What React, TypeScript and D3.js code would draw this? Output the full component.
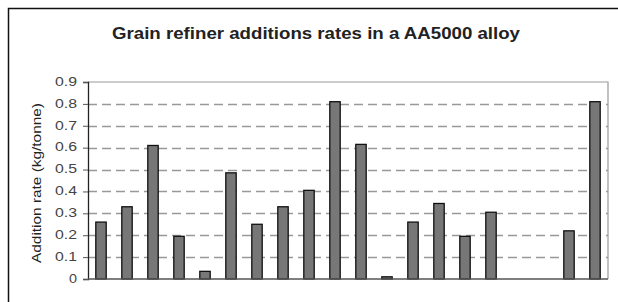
import React, { useEffect, useRef } from "react";
import * as d3 from "d3";

// chart data
const categories = ["1", "2", "3", "4", "5", "6", "7", "8", "9", "10", "11", "12", "13", "14", "15", "16", "17", "18", "19", "20"];
const additionRates: (number | null)[] = [0.26, 0.33, 0.61, 0.195, 0.035, 0.485, 0.25, 0.33, 0.405, 0.81, 0.615, 0.01, 0.26, 0.345, 0.195, 0.305, null, null, 0.22, 0.81];
const yTicks = [0, 0.1, 0.2, 0.3, 0.4, 0.5, 0.6, 0.7, 0.8, 0.9];

const titleText = "Grain refiner additions rates in a AA5000 alloy";
const yLabelText = "Addition rate (kg/tonne)";

function App() {
  const ref = useRef<SVGSVGElement>(null);

  useEffect(() => {
    const width = 618;
    const height = 302;
    const margin = { top: 82, right: 10, bottom: 23, left: 88 };
    const font = "'Liberation Sans', Arial, sans-serif";

    const svg = d3.select(ref.current);
    svg.selectAll("*").remove();
    svg.attr("width", width).attr("height", height);

    // outer frame (runs off the right and bottom edges)
    svg
      .append("rect")
      .attr("x", 8.5)
      .attr("y", 8.5)
      .attr("width", 640)
      .attr("height", 320)
      .attr("fill", "#fff")
      .attr("stroke", "#111")
      .attr("stroke-width", 1.5);

    const x = d3
      .scaleBand()
      .domain(categories)
      .range([margin.left, width - margin.right])
      .paddingInner(0.6)
      .paddingOuter(0.3);

    const y = d3
      .scaleLinear()
      .domain([0, 0.9])
      .range([height - margin.bottom, margin.top]);

    // plot border, top and right in grey
    svg
      .append("path")
      .attr("d", `M${margin.left},${y(0.9)}H${width - margin.right}V${y(0)}`)
      .attr("fill", "none")
      .attr("stroke", "#999")
      .attr("stroke-width", 1.2);

    // dashed gridlines
    svg
      .append("g")
      .selectAll("line")
      .data(yTicks.filter((t) => t > 0 && t < 0.9))
      .join("line")
      .attr("x1", margin.left)
      .attr("x2", width - margin.right)
      .attr("y1", (d) => Math.round(y(d)) + 0.5)
      .attr("y2", (d) => Math.round(y(d)) + 0.5)
      .attr("stroke", "#999")
      .attr("stroke-width", 1.3)
      .attr("stroke-dasharray", "9,5");

    // y axis with ticks pointing left
    const yAxis = svg
      .append("g")
      .attr("transform", `translate(${margin.left},0)`)
      .call(d3.axisLeft(y).tickValues(yTicks).tickSize(5).tickPadding(6).tickFormat((d) => (d === 0 ? "0" : d3.format(".1f")(d as number))));
    yAxis.select(".domain").attr("stroke", "#222").attr("stroke-width", 1.3);
    yAxis.selectAll(".tick line").attr("stroke", "#555");
    yAxis
      .selectAll(".tick text")
      .attr("font-family", font)
      .attr("font-size", 13)
      .attr("fill", "#444")
      .attr("dy", "0.25em")
      .attr("textLength", (d) => (d === 0 ? 8 : 22))
      .attr("lengthAdjust", "spacingAndGlyphs");

    // bars
    svg
      .append("g")
      .selectAll("rect")
      .data(categories.map((c, i) => ({ c, v: additionRates[i] })).filter((d) => d.v !== null))
      .join("rect")
      .attr("x", (d) => x(d.c)!)
      .attr("y", (d) => y(d.v as number))
      .attr("width", x.bandwidth())
      .attr("height", (d) => y(0) - y(d.v as number))
      .attr("fill", "#777")
      .attr("stroke", "#111")
      .attr("stroke-width", 1.3);

    // baseline
    svg
      .append("line")
      .attr("x1", margin.left)
      .attr("x2", width - margin.right)
      .attr("y1", y(0))
      .attr("y2", y(0))
      .attr("stroke", "#555")
      .attr("stroke-width", 1.3);

    // title
    svg
      .append("text")
      .attr("x", 316)
      .attr("y", 39)
      .attr("text-anchor", "middle")
      .attr("font-family", font)
      .attr("font-weight", "bold")
      .attr("font-size", 16.5)
      .attr("fill", "#222")
      .attr("textLength", 408)
      .attr("lengthAdjust", "spacingAndGlyphs")
      .text(titleText);

    // y axis title
    svg
      .append("text")
      .attr("transform", `translate(41,183) rotate(-90)`)
      .attr("text-anchor", "middle")
      .attr("font-family", font)
      .attr("font-size", 13.5)
      .attr("fill", "#222")
      .attr("textLength", 160)
      .attr("lengthAdjust", "spacingAndGlyphs")
      .text(yLabelText);
  }, []);

  return <svg ref={ref} style={{ position: "absolute", left: 0, top: 0 }} />;
}

export default App;
